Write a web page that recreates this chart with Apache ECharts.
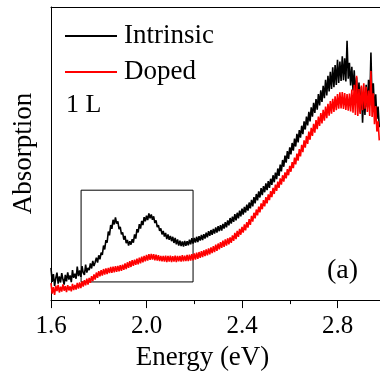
<!DOCTYPE html>
<html>
<head>
<meta charset="utf-8">
<script src="https://cdn.jsdelivr.net/npm/echarts@6/dist/echarts.min.js"></script>
<style>html,body{margin:0;padding:0;background:#fff}#c{width:380px;height:376px}</style>
</head>
<body>
<div id="c"></div>
<script>
// Energy axis (eV): 1.600 .. 2.975 in 0.005 steps
const energyStart = 1.600, energyStep = 0.005;
const xTicks = [1.6, 2.0, 2.4, 2.8];
const seriesNames = ['Intrinsic', 'Doped'];

// Absorption (arb. units)
const intrinsic = [
11.0,6.2,8.9,4.8,7.5,9.4,5.6,8.1,6.0,9.2,
7.1,5.3,8.6,6.4,9.5,7.0,8.4,6.1,10.2,7.6,
9.0,7.3,11.4,8.2,10.1,7.9,11.6,9.3,8.6,12.1,
9.4,11.0,10.2,12.5,10.8,13.4,11.6,12.9,14.5,12.8,
15.3,13.9,16.2,15.4,18.6,17.3,20.5,19.6,23.4,22.1,
25.6,24.3,27.4,25.8,28.2,26.1,26.9,24.2,25.0,22.4,
23.1,20.6,21.9,19.4,20.5,18.6,20.1,18.9,20.8,19.6,
22.4,21.0,24.2,23.1,25.9,24.4,27.0,25.6,28.3,26.9,
28.8,27.3,29.6,27.9,29.2,27.4,28.6,26.3,27.2,24.9,
25.6,23.6,24.5,22.4,23.6,21.7,22.9,20.8,22.4,20.6,
21.9,20.1,21.6,19.5,21.2,19.0,20.7,18.6,20.3,18.4,
20.0,18.3,20.2,18.5,20.1,18.7,20.6,19.0,21.1,19.3,
21.2,19.6,21.6,19.8,21.8,20.3,22.2,20.5,22.5,21.0,
23.0,21.4,23.5,21.9,23.9,22.3,24.3,22.7,24.8,23.0,
25.2,23.5,25.6,23.7,26.0,24.4,26.6,24.8,27.2,25.5,
28.0,26.1,28.5,26.7,29.3,27.2,29.8,27.9,30.5,28.6,
31.2,29.2,31.8,29.9,32.6,30.5,33.3,31.3,34.2,32.0,
35.1,33.0,36.2,34.0,37.1,35.0,38.2,35.8,38.9,36.8,
39.8,37.5,40.6,38.3,41.4,39.3,42.6,40.2,43.5,41.3,
44.9,42.4,46.2,43.9,47.8,45.5,49.3,46.9,50.8,48.2,
52.1,49.7,53.6,51.0,55.1,52.4,56.7,53.8,58.0,55.4,
59.5,56.6,61.0,58.2,62.6,59.6,64.2,61.0,65.8,62.6,
67.3,63.9,68.6,65.0,70.3,66.4,71.6,67.6,73.1,68.9,
75.2,69.8,76.5,71.2,77.9,72.0,79.4,72.6,80.2,73.4,
82.0,74.1,81.4,74.8,83.2,75.0,82.5,74.6,88.5,75.5,
81.0,73.2,79.6,71.5,78.4,69.8,76.0,67.4,74.2,64.0,
72.8,60.5,71.0,63.2,73.5,65.8,75.2,66.4,84.5,67.0,
74.0,64.5,70.2,61.8,66.0,59.0
];
const doped = [
5.8,2.2,4.4,1.8,4.9,3.1,5.2,2.6,4.6,2.9,
5.4,3.2,4.8,2.7,5.1,3.3,4.7,3.0,5.5,3.4,
5.2,3.6,5.9,3.9,6.0,4.1,6.4,4.6,6.8,5.0,
7.3,5.3,7.6,5.9,8.2,6.5,8.8,7.0,9.4,7.6,
9.9,8.1,10.2,8.4,10.6,8.7,10.8,8.9,11.0,9.2,
11.3,9.3,11.4,9.5,11.6,9.6,11.7,9.8,11.9,10.0,
12.1,10.3,12.5,10.6,12.9,11.0,13.3,11.3,13.6,11.7,
13.8,12.0,14.1,12.2,14.5,12.5,14.8,12.9,15.1,13.2,
15.4,13.5,15.7,13.7,15.8,13.8,15.7,13.6,15.5,13.5,
15.3,13.3,15.1,13.2,15.1,13.1,15.2,13.0,15.1,13.1,
15.2,13.0,15.0,13.1,15.2,13.0,15.1,13.2,15.1,13.1,
15.3,13.2,15.2,13.3,15.4,13.3,15.5,13.5,15.7,13.6,
15.9,13.8,16.2,14.1,16.4,14.4,16.7,14.7,17.0,15.0,
17.3,15.3,17.6,15.6,18.0,16.0,18.4,16.4,18.9,16.8,
19.3,17.3,19.8,17.8,20.3,18.2,20.7,18.6,21.1,19.0,
21.4,19.5,22.1,20.2,22.9,20.8,23.6,21.6,24.3,22.3,
25.0,23.0,25.8,23.8,26.6,24.7,27.6,25.7,28.7,26.8,
29.8,27.9,30.9,28.9,31.9,29.9,33.0,31.0,34.1,32.0,
35.1,33.0,36.1,34.1,37.2,35.1,38.3,36.2,39.4,37.3,
40.4,38.3,41.5,39.4,42.6,40.4,43.6,41.5,44.7,42.6,
45.8,43.8,47.1,45.0,48.6,46.3,50.0,47.6,51.5,49.0,
53.0,50.5,54.5,52.0,56.0,53.3,57.5,54.7,58.8,56.0,
60.1,57.1,61.4,58.3,62.6,59.4,63.8,60.3,64.9,61.2,
66.0,62.1,67.0,62.9,67.9,63.6,68.7,64.2,69.5,64.8,
70.3,65.3,70.9,65.4,71.0,65.2,70.6,64.9,70.3,64.6,
70.5,64.4,71.8,63.9,73.5,63.2,76.5,62.8,72.0,63.5,
73.2,64.8,74.0,65.3,72.8,64.2,71.5,62.8,78.2,62.5,
70.6,60.0,66.2,57.5,61.0,54.5
];
// Inset box region [x0, y0, x1, y1]
const boxRegion = [1.726, 6.2, 2.195, 37.5];

const energy = intrinsic.map((_, i) => +(energyStart + i * energyStep).toFixed(3));
const pair = arr => arr.map((v, i) => [energy[i], v]);

const FONT = 'Liberation Serif';
(function () {
  const cv = document.createElement('canvas').getContext('2d');
  [20, 25, 26, 27, 28].forEach(s => { cv.font = s + 'px "Liberation Serif"'; cv.measureText('Intrinsic Doped 1.6 (a)'); cv.fillText('x', 0, 0); });
})();

function build() {
  return {
    animation: false,
    backgroundColor: '#fff',
    grid: {left: 51, right: 0, top: 7, bottom: 74.5},
    legend: {
      data: seriesNames,
      orient: 'vertical',
      left: 60, top: 16,
      itemWidth: 52, itemHeight: 2, itemGap: 6,
      icon: 'rect',
      textStyle: {fontFamily: FONT, fontSize: 27, color: '#000', lineHeight: 30, padding: [0, 0, 0, 2]}
    },
    xAxis: [{
      type: 'value', min: 1.6, max: 2.978, interval: 0.4,
      name: 'Energy (eV)', nameLocation: 'middle', nameGap: 42,
      nameTextStyle: {fontFamily: FONT, fontSize: 27, color: '#000', padding: [0, 26, 0, 0]},
      axisLine: {show: true, lineStyle: {color: '#000', width: 1}},
      axisTick: {show: true, inside: false, length: 8, lineStyle: {color: '#000', width: 1}},
      minorTick: {show: true, splitNumber: 2, length: 4, lineStyle: {color: '#000', width: 1}},
      axisLabel: {fontFamily: FONT, fontSize: 25, color: '#000', margin: 14, showMaxLabel: false,
        formatter: v => xTicks.some(t => Math.abs(t - v) < 1e-6) ? v.toFixed(1) : ''},
      splitLine: {show: false}
    }, {
      type: 'value', position: 'top', min: 1.6, max: 2.978,
      axisLine: {show: true, onZero: false, lineStyle: {color: '#000', width: 1}},
      axisTick: {show: false}, axisLabel: {show: false}, splitLine: {show: false}
    }],
    yAxis: {
      type: 'value', min: 0, max: 100,
      name: 'Absorption', nameLocation: 'middle', nameGap: 14,
      nameTextStyle: {fontFamily: FONT, fontSize: 27, color: '#000'},
      axisLine: {show: true, lineStyle: {color: '#000', width: 1}},
      axisTick: {show: false}, axisLabel: {show: false}, splitLine: {show: false}
    },
    series: [{
      name: seriesNames[0], type: 'line', data: pair(intrinsic),
      showSymbol: false, symbol: 'none', lineStyle: {color: '#000', width: 1.6}, itemStyle: {color: '#000'},
      markArea: {silent: true, itemStyle: {color: 'rgba(0,0,0,0)', borderColor: '#000', borderWidth: 1},
        data: [[{xAxis: boxRegion[0], yAxis: boxRegion[1]}, {xAxis: boxRegion[2], yAxis: boxRegion[3]}]]}
    }, {
      name: seriesNames[1], type: 'line', data: pair(doped),
      showSymbol: false, symbol: 'none', lineStyle: {color: '#ff0000', width: 1.6}, itemStyle: {color: '#ff0000'}
    }],
    graphic: [
      {type: 'text', left: 66, top: 92, style: {text: '1 L', font: '26px "Liberation Serif"', fill: '#000'}},
      {type: 'text', left: 327, top: 257, style: {text: '(a)', font: '28px "Liberation Serif"', fill: '#000'}}
    ]
  };
}
const chart = echarts.init(document.getElementById('c'), null, {renderer: 'canvas'});
chart.setOption(build());
setTimeout(() => { chart.setOption(build(), true); }, 50);
</script>
</body>
</html>
